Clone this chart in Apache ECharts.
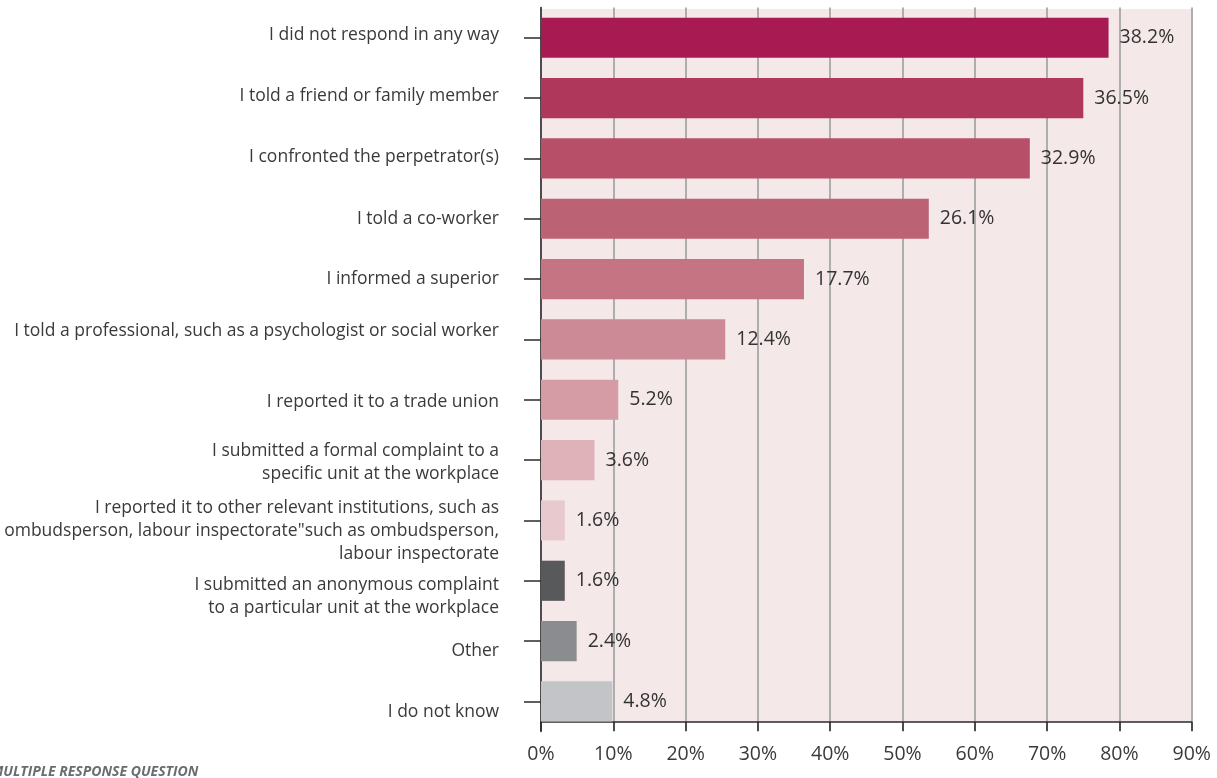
<!DOCTYPE html>
<html>
<head>
<meta charset="utf-8">
<script src="https://cdn.jsdelivr.net/npm/echarts@6/dist/echarts.min.js"></script>
<style>
  html, body { margin: 0; padding: 0; background: #ffffff; }
  #chart { width: 1217px; height: 778px; }
</style>
</head>
<body>
<div id="chart"></div>
<script>
// Responses, top to bottom
const categories = [
  'I did not respond in any way',
  'I told a friend or family member',
  'I confronted the perpetrator(s)',
  'I told a co-worker',
  'I informed a superior',
  'I told a professional, such as a psychologist or social worker',
  'I reported it to a trade union',
  'I submitted a formal complaint to a\nspecific unit at the workplace',
  'I reported it to other relevant institutions, such as\nombudsperson, labour inspectorate"such as ombudsperson,\nlabour inspectorate',
  'I submitted an anonymous complaint\nto a particular unit at the workplace',
  'Other',
  'I do not know'
];

// Share of respondents (%)
const shares = [38.2, 36.5, 32.9, 26.1, 17.7, 12.4, 5.2, 3.6, 1.6, 1.6, 2.4, 4.8];

// Printed scale along the value axis
const tickLabels = ['0%', '10%', '20%', '30%', '40%', '50%', '60%', '70%', '80%', '90%'];

// Bar fills, top to bottom
const barColors = [
  '#A81B52', '#AF375C', '#B74F69', '#BC6275', '#C47482', '#CC8996',
  '#D59CA6', '#DFB2BA', '#E8CACE', '#58595B', '#8B8C90', '#C3C4C8'
];

// Vertical nudge (px) of each category label relative to its tick
const labelNudge = [-3, -2, -1, 0, 0, -8, 2, 2, 11, 16, 10, 11];

// The printed scale runs about 2.055 times the stated shares
const SCALE = 2.055;
const step = 10 / SCALE;

const FONT = '"Open Sans", "Noto Sans", sans-serif';
const G = { left: 541, top: 7.6, width: 650.7, height: 724 };

// Spacer lines: a blank line of height 2|d| above (or below) a label moves it by d
const spacerRich = {};
labelNudge.forEach((d, i) => {
  if (d !== 0) spacerRich['sp' + i] = { fontSize: 1, lineHeight: Math.abs(2 * d), height: Math.abs(2 * d) };
});
function categoryLabel(value, index) {
  const d = labelNudge[index];
  if (!d) return value;
  const spacer = '{sp' + index + '| }';
  return d > 0 ? spacer + '\n' + value : value + '\n' + spacer;
}

const chart = echarts.init(document.getElementById('chart'), null, { renderer: 'canvas' });

chart.setOption({
  animation: false,
  backgroundColor: '#ffffff',
  textStyle: { fontFamily: FONT },
  grid: { left: G.left, top: G.top, width: G.width, height: G.height, containLabel: false },
  graphic: [
    {
      type: 'rect', z: -10, silent: true,
      shape: { x: G.left, y: 9, width: G.width, height: 722 - 9 },
      style: { fill: '#F4E8E9' }
    },
    {
      type: 'text', left: -9, top: 765, silent: true,
      style: {
        text: 'MULTIPLE RESPONSE QUESTION',
        fill: '#6b6c6f',
        font: 'italic bold 14px "Open Sans", "Noto Sans", sans-serif'
      }
    }
  ],
  xAxis: {
    type: 'value',
    min: 0,
    max: step * (tickLabels.length - 1),
    interval: step,
    offset: -9.6,
    axisLine: { show: true, lineStyle: { color: '#2b2b2b', width: 1.5 } },
    axisTick: { show: true, length: 9, lineStyle: { color: '#2b2b2b', width: 1.5 } },
    axisLabel: {
      margin: 22,
      color: '#3a3a3a',
      fontSize: 19.5,
      fontFamily: FONT,
      formatter: (v) => tickLabels[Math.round(v / step)]
    },
    splitLine: { show: true, lineStyle: { color: '#a7a7a7', width: 1.8 } }
  },
  yAxis: {
    type: 'category',
    inverse: true,
    data: categories,
    axisLine: { show: true, lineStyle: { color: '#2b2b2b', width: 1.5 } },
    axisTick: { show: true, alignWithLabel: true, length: 17, lineStyle: { color: '#2b2b2b', width: 1.5 } },
    axisLabel: {
      margin: 42,
      color: '#3a3a3a',
      fontSize: 17.5,
      lineHeight: 23,
      align: 'right',
      fontFamily: FONT,
      formatter: categoryLabel,
      rich: spacerRich
    },
    splitLine: { show: false }
  },
  series: [{
    type: 'bar',
    data: shares.map((v, i) => ({ value: v, itemStyle: { color: barColors[i] } })),
    barCategoryGap: '33.5%',
    label: {
      show: true,
      position: 'right',
      distance: 11,
      color: '#333333',
      fontSize: 19.5,
      fontFamily: FONT,
      formatter: p => p.value.toFixed(1) + '%'
    }
  }]
});
</script>
</body>
</html>
